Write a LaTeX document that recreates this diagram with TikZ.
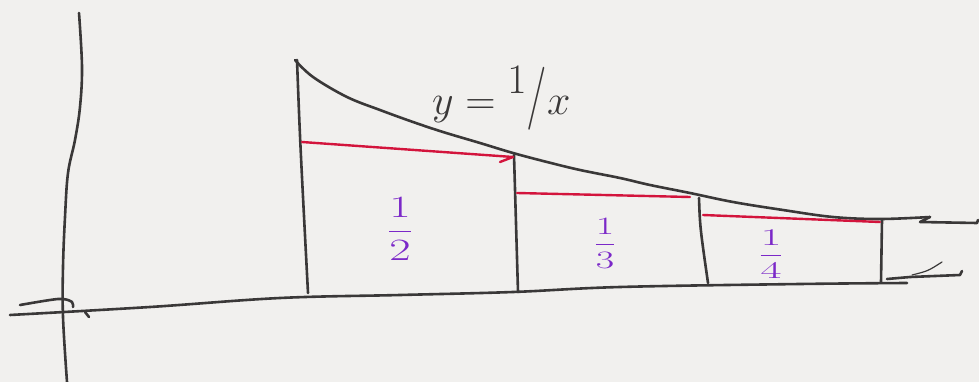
\RequirePackage{fix-cm}
\documentclass[tikz,border=0pt]{standalone}
\usetikzlibrary{calc}
\definecolor{paper}{HTML}{F1F0EE}
\definecolor{ink}{HTML}{3A3838}
\definecolor{redink}{HTML}{D3143C}
\definecolor{purpleink}{HTML}{7B28C8}
\begin{document}
\begin{tikzpicture}[x=1pt,y=-1pt,
  pen/.style={draw=ink,line width=2.6pt,line cap=round,line join=round},
  thinpen/.style={draw=ink,line width=1.2pt,line cap=round},
  redpen/.style={draw=redink,line width=2.4pt,line cap=round,line join=round},
  fraclabel/.style={text=purpleink,inner sep=0pt},
  curvelabel/.style={text=ink,font=\fontsize{42}{48}\selectfont,inner sep=0pt}]
\fill[paper] (0,0) rectangle (979,382);
\useasboundingbox (0,0) rectangle (979,382);
% y-axis
\draw[pen] plot[smooth,tension=0.6] coordinates {(79,13) (82,67) (80,107) (75,140) (68,173) (65,217) (63,267) (63,317) (67,382)};
% x-axis
\draw[pen] plot[smooth,tension=0.6] coordinates {(10,315) (150,307) (280,298) (400,295) (513,292) (620,287) (800,284) (907,283)};
\draw[pen] (887,279) -- (910,277) -- (960,275) -- (962,271);
\draw[thinpen] (912,275) .. controls (928,271) .. (942,262);
% small marks near origin
\draw[pen] plot[smooth,tension=0.6] coordinates {(20,305) (50,300) (63,299) (72,302) (73,307)};
\draw[pen] (85,312) -- (89,317);
% curve y = 1/x
\draw[pen] plot[smooth,tension=0.6] coordinates {(295,60) (313,77) (347,97) (380,110) (413,122) (443,132) (480,143) (513,153) (547,162) (580,170) (620,178) (650,185) (690,193) (733,202) (783,210) (833,217) (880,219) (930,217)};
\draw[pen] (930,217) -- (920,222) -- (977,223) -- (978,220);
% vertical strips
\coordinate (v1t) at (297,60);  \coordinate (v1b) at (308,293);
\coordinate (v2t) at (514,155); \coordinate (v2b) at (518,292);
\coordinate (v3t) at (699,198); \coordinate (v3b) at (708,283);
\coordinate (v4t) at (882,220); \coordinate (v4b) at (881,282);
\draw[pen] (v1t) .. controls (300,140) .. (v1b);
\draw[pen] (v2t) -- (v2b);
\draw[pen] (v3t) .. controls (700,227) .. (v3b);
\draw[pen] (v4t) -- (v4b);
% red heights
\draw[redpen] (302,142) -- (513,157) -- (500,162);
\draw[redpen] (517,193) -- (690,197);
\draw[redpen] (703,215) -- (880,222);
% labels
\node[fraclabel,font=\fontsize{31}{36}\selectfont] (h2) at (400,229) {\scalebox{1.5}[1]{$\displaystyle\frac{1}{2}$}};
\node[fraclabel,font=\fontsize{25}{30}\selectfont] (h3) at (605,243) {\scalebox{1.6}[1]{$\displaystyle\frac{1}{3}$}};
\node[fraclabel,font=\fontsize{24}{28}\selectfont] (h4) at (771,254) {\scalebox{1.9}[1]{$\displaystyle\frac{1}{4}$}};
\node[curvelabel,anchor=base west] (eq) at (432,115) {$y=\raisebox{0.52em}{$1$}\scalebox{1}[1.5]{$/$}x$};
\end{tikzpicture}
\end{document}
